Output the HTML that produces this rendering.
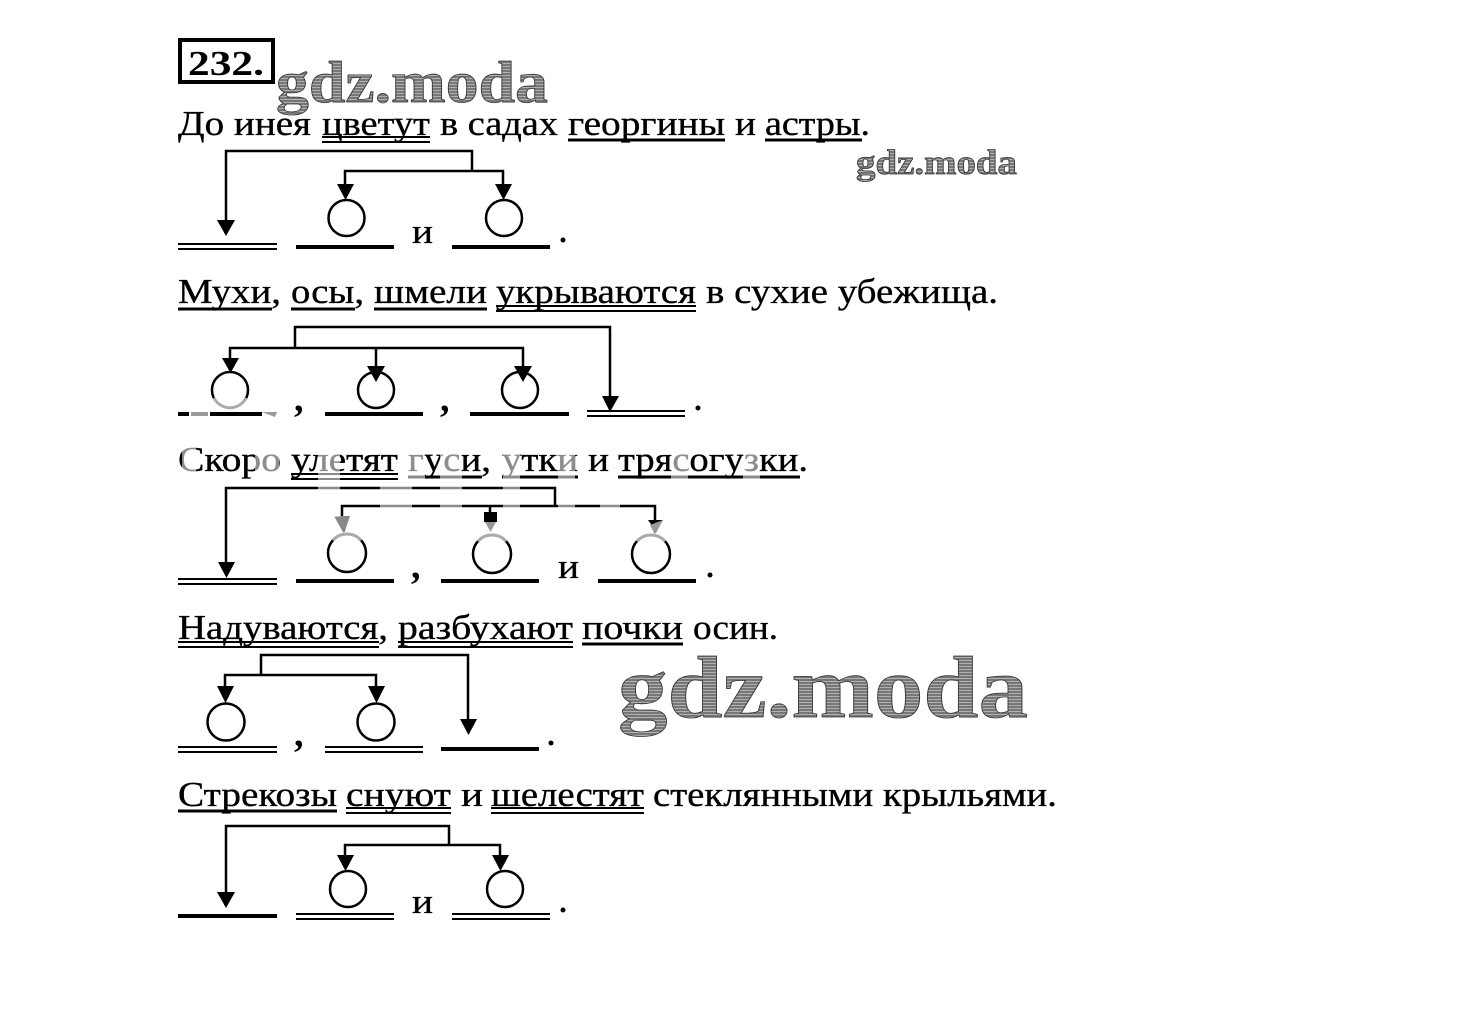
<!DOCTYPE html>
<html><head><meta charset="utf-8"><style>
html,body{margin:0;padding:0;background:#fff;width:1460px;height:1011px;overflow:hidden}
svg{display:block}
text{font-family:"Liberation Serif",serif;fill:#000}
.t{font-size:35px;stroke:#000;stroke-width:.35}
.p{font-size:38px;font-weight:bold}
.w{font-weight:bold;fill:url(#st);stroke:#333;stroke-width:.8}
.l{stroke:#000;stroke-width:2.5;fill:none}
.u{stroke:#000;stroke-width:3;fill:none}
.d{stroke:#000;stroke-width:2;fill:none}
.b{stroke:#000;stroke-width:4;fill:none}
.c{stroke:#000;stroke-width:2.5;fill:none}
.g{stroke:#aaa;stroke-width:3;fill:none}
</style></head><body>
<svg width="1460" height="1011" viewBox="0 0 1460 1011" xmlns="http://www.w3.org/2000/svg">
<defs><pattern id="st" width="6" height="3" patternUnits="userSpaceOnUse"><rect width="6" height="3" fill="#777"/><rect width="6" height="1" fill="#b0b0b0"/></pattern></defs>

<rect x="180" y="40" width="93" height="42" fill="none" stroke="#000" stroke-width="4"/>
<text x="188" y="75" font-size="35" font-weight="bold" textLength="76" lengthAdjust="spacingAndGlyphs">232.</text>

<text class="w" x="276" y="102" font-size="59" textLength="272" lengthAdjust="spacingAndGlyphs">gdz.moda</text>
<text class="w" x="856" y="174" font-size="35" textLength="161" lengthAdjust="spacingAndGlyphs">gdz.moda</text>
<text class="w" x="618" y="717" font-size="88" textLength="410" lengthAdjust="spacingAndGlyphs">gdz.moda</text>

<!-- line 1 -->
<g class="t">
<text x="178" y="135" textLength="133" lengthAdjust="spacingAndGlyphs">До инея</text>
<text x="322" y="135" textLength="108" lengthAdjust="spacingAndGlyphs">цветут</text>
<text x="440" y="135" textLength="118" lengthAdjust="spacingAndGlyphs">в садах</text>
<text x="568" y="135" textLength="157" lengthAdjust="spacingAndGlyphs">георгины</text>
<text x="735" y="135" textLength="21" lengthAdjust="spacingAndGlyphs">и</text>
<text x="765" y="135" textLength="105" lengthAdjust="spacingAndGlyphs">астры.</text>
</g>
<path class="d" d="M322 137H430M322 142H430"/>
<path class="u" d="M568 140H725M765 140H862"/>
<path class="l" d="M226 222V151H472V171M345 186V171H503V186"/>
<path d="M217 220H235L226 236Z"/>
<circle class="c" cx="346.500" cy="218" r="18"/><circle class="c" cx="504" cy="218" r="18"/>
<path d="M337 184H354L345.500 200ZM495 184H512L503.500 200Z"/>
<path class="d" d="M178 244H277M178 249H277"/>
<path class="b" d="M296 247H394M452 247H550"/>
<text class="t" x="412" y="243" textLength="21" lengthAdjust="spacingAndGlyphs">и</text>
<circle cx="563" cy="240" r="2.500"/>

<!-- line 2 -->
<g class="t">
<text x="178" y="303" textLength="103" lengthAdjust="spacingAndGlyphs">Мухи,</text>
<text x="291" y="303" textLength="73" lengthAdjust="spacingAndGlyphs">осы,</text>
<text x="374" y="303" textLength="113" lengthAdjust="spacingAndGlyphs">шмели</text>
<text x="496" y="303" textLength="200" lengthAdjust="spacingAndGlyphs">укрываются</text>
<text x="706" y="303" textLength="292" lengthAdjust="spacingAndGlyphs">в сухие убежища.</text>
</g>
<path class="u" d="M178 309H272M291 309H355M374 309H487"/>
<path class="d" d="M496 306H696M496 311H696"/>
<path class="l" d="M295 348V327H610V397M230 360V348H523V368M376 348V368"/>
<circle class="c" cx="230" cy="390" r="18"/><circle class="c" cx="376" cy="390" r="18"/><circle class="c" cx="520" cy="390" r="18"/>
<path d="M222 358H239L230.500 373ZM367 366H385L376 382ZM514 366H532L523 382ZM602 396H619L610 412Z"/>
<path d="M214 398a18 18 0 0 0 32 0" fill="none" stroke="#fff" stroke-width="4"/>
<path class="g" d="M214 398a18 18 0 0 0 32 0"/>
<path class="b" d="M178 414H189M210 414H262"/>
<path d="M191 414H208" stroke="#999" stroke-width="4"/>
<path d="M262 412H277L275 417Z" fill="#999"/>
<path class="b" d="M325 414H423M470 414H569"/>
<path class="d" d="M587 411H685M587 416H685"/>
<text class="p" x="294" y="411">,</text><text class="p" x="440" y="411">,</text><circle cx="698" cy="408" r="2.500"/>

<!-- line 3 -->
<g class="t">
<text x="178" y="471" textLength="103" lengthAdjust="spacingAndGlyphs">Скоро</text>
<text x="291" y="471" textLength="107" lengthAdjust="spacingAndGlyphs">улетят</text>
<text x="408" y="471" textLength="83" lengthAdjust="spacingAndGlyphs">гуси,</text>
<text x="502" y="471" textLength="76" lengthAdjust="spacingAndGlyphs">утки</text>
<text x="588" y="471" textLength="21" lengthAdjust="spacingAndGlyphs">и</text>
<text x="618" y="471" textLength="190" lengthAdjust="spacingAndGlyphs">трясогузки.</text>
</g>
<path class="d" d="M291 474H398M291 479H398"/>
<path class="u" d="M408 477H482M502 477H578M618 477H800"/>
<path class="l" d="M226 564V488H555V506M342 520V506H655V520M490 506V522"/>
<path d="M218 562H235L226.500 578Z"/>
<path d="M334 516H350L344 534Z" fill="#888"/><path d="M484 512H497V522H484Z"/><path d="M485 522H496L490.500 532Z" fill="#999"/><path d="M648 520H663L655 530Z"/><path d="M650 525L663 520L655 535Z" fill="#999"/>
<circle class="c" cx="347" cy="553" r="19"/><circle class="c" cx="492" cy="554" r="19"/><circle class="c" cx="651" cy="554" r="19"/>
<path d="M333 540.200a19 19 0 0 1 28 0M478 541.200a19 19 0 0 1 28 0M637 541.200a19 19 0 0 1 28 0" fill="none" stroke="#fff" stroke-width="4"/>
<path class="g" d="M333 540.200a19 19 0 0 1 28 0M478 541.200a19 19 0 0 1 28 0M637 541.200a19 19 0 0 1 28 0"/>
<path class="d" d="M178 579H277M178 584H277"/>
<path class="b" d="M296 581H394M441 581H539M598 581H696"/>
<text class="p" x="411" y="578">,</text><text class="t" x="558" y="578" textLength="21" lengthAdjust="spacingAndGlyphs">и</text><circle cx="710" cy="575" r="2.500"/>
<!-- faded stripes -->
<g fill="#fff" opacity=".55">
<rect x="318" y="445" width="22" height="72"/><rect x="380" y="482" width="32" height="35"/><rect x="408" y="445" width="17" height="37"/><rect x="440" y="445" width="22" height="72"/><rect x="503" y="445" width="17" height="72"/><rect x="558" y="445" width="17" height="72"/><rect x="600" y="482" width="20" height="35"/>
<rect x="182" y="445" width="14" height="30"/><rect x="255" y="445" width="24" height="30"/><rect x="671" y="445" width="17" height="37"/><rect x="743" y="445" width="17" height="37"/>
</g>

<!-- line 4 -->
<g class="t">
<text x="178" y="639" textLength="210" lengthAdjust="spacingAndGlyphs">Надуваются,</text>
<text x="398" y="639" textLength="175" lengthAdjust="spacingAndGlyphs">разбухают</text>
<text x="582" y="639" textLength="101" lengthAdjust="spacingAndGlyphs">почки</text>
<text x="693" y="639" textLength="85" lengthAdjust="spacingAndGlyphs">осин.</text>
</g>
<path class="d" d="M178 642H379M178 647H379M398 642H573M398 647H573"/>
<path class="u" d="M582 644H683"/>
<path class="l" d="M261 675V655H468V720M225 688V675H376V688"/>
<path d="M460 719H477L468.500 735Z"/>
<circle class="c" cx="226" cy="722" r="18.500"/><circle class="c" cx="376" cy="722" r="18.500"/>
<path d="M217 686H234L225.500 703ZM368 686H385L376.500 703Z"/>
<path class="d" d="M178 747H277M178 752H277M325 747H423M325 752H423"/>
<path class="b" d="M441 749H539"/>
<text class="p" x="294" y="746">,</text><circle cx="551" cy="743" r="2.500"/>

<!-- line 5 -->
<g class="t">
<text x="178" y="806" textLength="159" lengthAdjust="spacingAndGlyphs">Стрекозы</text>
<text x="346" y="806" textLength="105" lengthAdjust="spacingAndGlyphs">снуют</text>
<text x="461" y="806" textLength="22" lengthAdjust="spacingAndGlyphs">и</text>
<text x="491" y="806" textLength="153" lengthAdjust="spacingAndGlyphs">шелестят</text>
<text x="653" y="806" textLength="404" lengthAdjust="spacingAndGlyphs">стеклянными крыльями.</text>
</g>
<path class="u" d="M178 811H337"/>
<path class="d" d="M346 808H451M346 813H451M491 808H644M491 813H644"/>
<path class="l" d="M226 893V826H449V845M345 857V845H500V857"/>
<path d="M217 892H235L226 908Z"/>
<circle class="c" cx="348" cy="889" r="18"/><circle class="c" cx="505" cy="889" r="18"/>
<path d="M337 855H354L345.500 871ZM492 855H509L500.500 871Z"/>
<path class="b" d="M178 916H277"/>
<path class="d" d="M296 914H394M296 919H394M452 914H550M452 919H550"/>
<text class="t" x="412" y="913" textLength="21" lengthAdjust="spacingAndGlyphs">и</text><circle cx="563" cy="910" r="2.500"/>
</svg>
</body></html>
